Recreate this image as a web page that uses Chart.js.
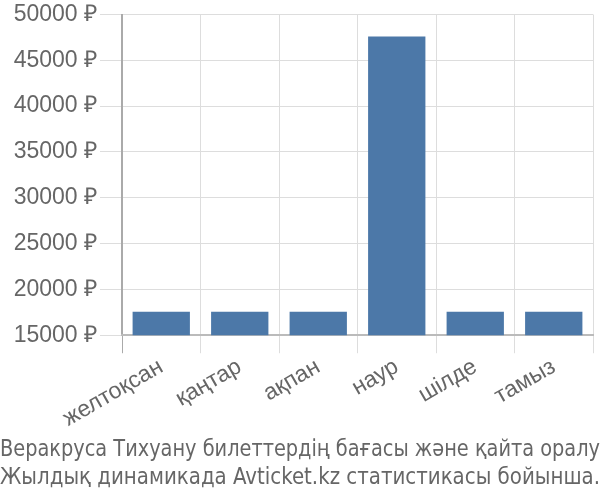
<!DOCTYPE html>
<html>
<head>
<meta charset="utf-8">
<script src="https://cdn.jsdelivr.net/npm/chart.js@4/dist/chart.umd.min.js"></script>
<style>
  html, body { margin: 0; padding: 0; background: #fff; }
  #wrap { width: 600px; height: 500px; position: relative; }
</style>
</head>
<body>
<div id="wrap"><canvas id="priceChart"></canvas></div>
<script>
// months shown on the x axis
const months = ['желтоқсан', 'қаңтар', 'ақпан', 'наур', 'шілде', 'тамыз'];
// ticket price per month, roubles
const prices = [17570, 17570, 17570, 47600, 17570, 17570];
// y axis range
const yTicks = [15000, 20000, 25000, 30000, 35000, 40000, 45000, 50000];
const caption = [
    'Веракруса Тихуану билеттердің бағасы және қайта оралу',
    'Жылдық динамикада Avticket.kz статистикасы бойынша.'
];

const ctx = document.getElementById('priceChart').getContext('2d');

new Chart(ctx, {
    type: 'bar',
    data: {
        labels: months,
        datasets: [{
            data: prices,
            backgroundColor: '#4c78a8',
            borderWidth: 0,
            categoryPercentage: 1,
            barPercentage: 0.73
        }]
    },
    options: {
        responsive: true,
        maintainAspectRatio: false,
        animation: false,
        layout: {
            // no side padding so the caption can use the full width
            padding: { top: 2, right: 0, left: 0, bottom: 8 }
        },
        plugins: {
            legend: { display: false },
            tooltip: { enabled: false },
            title: {
                display: true,
                position: 'bottom',
                text: caption,
                color: '#666',
                align: 'center',
                font: { family: '"Liberation Sans Narrow", "DejaVu Sans Condensed", sans-serif', size: 23.5, weight: 'normal', lineHeight: 1.2 },
                padding: { top: 3, bottom: 0 }
            }
        },
        scales: {
            y: {
                min: yTicks[0],
                max: yTicks[yTicks.length - 1],
                afterBuildTicks: function(axis) {
                    axis.ticks = yTicks.map(v => ({ value: v }));
                },
                afterFit: function(axis) {
                    axis.width = 122;
                },
                ticks: {
                    color: '#666',
                    padding: 3,
                    font: { family: '"Liberation Sans", Arial, sans-serif', size: 23, lineHeight: 1.0 },
                    callback: function(value) {
                        return value + ' ₽';
                    }
                },
                grid: {
                    color: '#dddddd',
                    tickLength: 22
                },
                border: { color: '#aaaaaa', width: 2 }
            },
            // empty axis, only keeps a small gap on the right
            yRight: {
                position: 'right',
                display: true,
                ticks: { display: false },
                grid: { display: false, drawTicks: false },
                border: { display: false },
                afterFit: function(axis) {
                    axis.width = 7;
                }
            },
            x: {
                ticks: {
                    color: '#666',
                    padding: 0,
                    minRotation: 30,
                    maxRotation: 30,
                    font: { family: '"Liberation Sans", Arial, sans-serif', size: 23 }
                },
                grid: {
                    color: function(context) {
                        return context.index === 0 ? '#aaaaaa' : '#dddddd';
                    },
                    tickLength: 18
                },
                border: { color: '#bbbbbb', width: 2 }
            }
        }
    }
});
</script>
</body>
</html>
